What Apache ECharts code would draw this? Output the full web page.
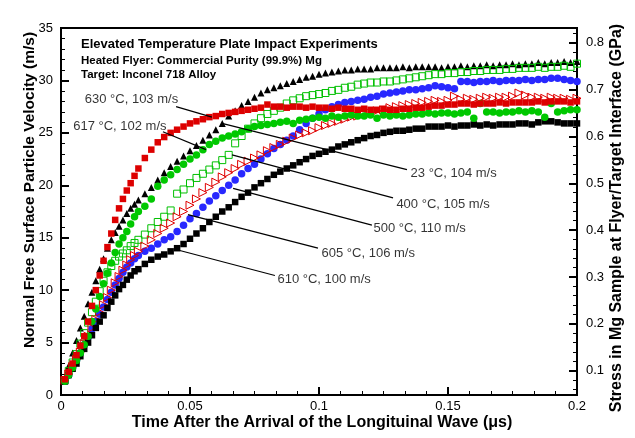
<!DOCTYPE html>
<html>
<head>
<meta charset="utf-8">
<script src="https://cdn.jsdelivr.net/npm/echarts@6/dist/echarts.min.js"></script>
<style>
  html, body { margin: 0; padding: 0; background: #fff; }
  #chart { width: 635px; height: 438px; }
</style>
</head>
<body>
<div id="chart"></div>
<script>
// time after arrival of longitudinal wave (us)
const time = [
  0.0015, 0.003, 0.0045, 0.006, 0.0075, 0.009, 0.0105, 0.012, 0.0135, 0.015,
  0.0165, 0.018, 0.0195, 0.021, 0.0225, 0.024, 0.0255, 0.027, 0.0285, 0.03,
  0.0325, 0.035, 0.0375, 0.04, 0.0425, 0.045, 0.0475, 0.05, 0.0525, 0.055,
  0.0575, 0.06, 0.0625, 0.065, 0.0675, 0.07, 0.0725, 0.075, 0.0775, 0.08,
  0.0825, 0.085, 0.0875, 0.09, 0.0925, 0.095, 0.0975, 0.1, 0.1025, 0.105,
  0.1075, 0.11, 0.1125, 0.115, 0.1175, 0.12, 0.1225, 0.125, 0.1275, 0.13,
  0.1325, 0.135, 0.1375, 0.14, 0.1425, 0.145, 0.1475, 0.15, 0.1525, 0.155,
  0.1575, 0.16, 0.1625, 0.165, 0.1675, 0.17, 0.1725, 0.175, 0.1775, 0.18,
  0.1825, 0.185, 0.1875, 0.19, 0.1925, 0.195, 0.1975, 0.2
];

// free surface velocity (m/s) per shot
const v23 = [
  1.6, 2.8, 4.0, 5.2, 6.4, 7.5, 8.7, 9.8, 10.9, 12.0,
  13.0, 14.0, 14.8, 15.5, 16.1, 16.7, 17.3, 17.8, 18.2, 18.6,
  19.2, 19.8, 20.5, 21.2, 21.8, 22.3, 22.8, 23.3, 23.8, 24.3,
  24.8, 25.3, 25.9, 26.6, 27.1, 27.6, 28.0, 28.4, 28.8, 29.1,
  29.3, 29.5, 29.7, 29.9, 30.1, 30.3, 30.4, 30.6, 30.7, 30.8,
  30.9, 31.0, 31.0, 31.1, 31.1, 31.1, 31.2, 31.2, 31.2, 31.2,
  31.3, 31.2, 31.3, 31.3, 31.3, 31.3, 31.2, 31.3, 31.3, 31.4,
  31.3, 31.4, 31.4, 31.5, 31.4, 31.5, 31.5, 31.6, 31.5, 31.6,
  31.6, 31.7, 31.6, 31.7, 31.7, 31.8, 31.7, 31.8
];
const v400 = [
  1.4, 2.3, 3.1, 3.9, 4.9, 5.9, 6.9, 7.9, 8.9, 9.9,
  10.9, 11.7, 12.3, 12.8, 13.2, 13.5, 13.8, 14.2, 14.5, 14.8,
  15.3, 15.9, 16.5, 17.0, 17.6, 19.2, 19.6, 20.2, 20.7, 21.1,
  21.5, 21.9, 22.4, 22.9, 24.0, 24.7, 25.4, 25.9, 26.4, 26.8,
  27.1, 27.4, 27.8, 28.1, 28.3, 28.5, 28.6, 28.7, 28.8, 29.0,
  29.1, 29.3, 29.4, 29.6, 29.7, 29.8, 29.8, 29.9, 29.9, 30.0,
  30.1, 30.2, 30.3, 30.4, 30.5, 30.6, 30.6, 30.7, 30.7, 30.8,
  30.8, 30.9, 30.9, 31.0, 31.0, 31.0, 31.1, 31.1, 31.2, 31.2,
  31.2, 31.3, 31.2, 31.3, 31.3, 31.4, 31.3, 31.6
];
const v500 = [
  1.3, 1.9, 2.6, 3.3, 4.0, 4.8, 5.5, 6.3, 7.0, 7.7,
  8.4, 9.1, 9.8, 10.5, 11.1, 11.7, 12.2, 12.6, 13.0, 13.3,
  13.7, 14.0, 14.4, 14.8, 15.1, 15.6, 16.2, 16.8, 17.3, 17.9,
  18.5, 19.0, 19.5, 20.0, 20.5, 21.1, 21.6, 22.0, 22.5, 23.0,
  23.5, 23.9, 24.3, 24.7, 25.3, 25.9, 26.4, 26.8, 27.2, 27.5,
  27.7, 27.9, 28.0, 28.1, 28.2, 28.4, 28.5, 28.7, 28.8, 28.9,
  29.0, 29.1, 29.1, 29.2, 29.3, 29.5, 29.4, 29.3, 29.2, 29.9,
  29.9, 29.8, 29.9, 29.9, 30.0, 29.9, 30.0, 30.0, 30.0, 30.1,
  30.0, 30.1, 30.1, 30.2, 30.2, 30.1, 30.0, 29.9
];
const v605 = [
  1.4, 2.0, 2.7, 3.4, 4.1, 4.9, 5.6, 6.4, 7.2, 7.9,
  8.6, 9.3, 10.0, 10.7, 11.3, 11.9, 12.4, 12.9, 13.3, 13.7,
  14.2, 14.8, 15.4, 15.9, 16.4, 17.0, 17.5, 18.1, 18.7, 19.3,
  19.8, 20.3, 20.8, 21.2, 21.6, 22.0, 22.3, 22.6, 22.9, 23.3,
  23.6, 23.9, 24.2, 24.5, 24.8, 25.0, 25.2, 25.5, 25.7, 25.9,
  26.1, 26.3, 26.5, 26.6, 26.8, 26.9, 27.1, 27.2, 27.4, 27.5,
  27.6, 27.7, 27.8, 27.9, 28.0, 28.1, 28.0, 28.1, 28.5, 28.2,
  28.3, 28.2, 28.3, 28.4, 28.3, 28.4, 28.4, 28.5, 28.8, 28.6,
  28.4, 28.4, 28.3, 28.4, 28.3, 28.3, 28.2, 28.3
];
const v610 = [
  1.3, 1.9, 2.5, 3.0, 3.7, 4.4, 5.0, 5.7, 6.4, 7.0,
  7.6, 8.3, 8.9, 9.5, 10.1, 10.5, 11.0, 11.4, 11.8, 12.0,
  12.5, 12.9, 13.2, 13.4, 13.7, 14.0, 14.4, 14.9, 15.4, 15.9,
  16.5, 17.0, 17.5, 17.9, 18.4, 18.9, 19.3, 19.8, 20.2, 20.6,
  21.0, 21.3, 21.6, 21.9, 22.2, 22.5, 22.8, 23.0, 23.2, 23.4,
  23.7, 23.9, 24.1, 24.3, 24.5, 24.7, 24.8, 25.0, 25.1, 25.2,
  25.2, 25.3, 25.4, 25.4, 25.6, 25.6, 25.6, 25.7, 25.6, 25.7,
  25.7, 25.8, 25.7, 25.8, 25.7, 25.8, 25.8, 25.8, 25.9, 25.9,
  25.8, 26.0, 26.1, 26.1, 26.0, 25.9, 25.9, 25.9
];
const v617 = [
  1.3, 1.9, 2.6, 3.3, 4.0, 4.8, 5.6, 7.0, 8.2, 9.4,
  10.6, 11.6, 12.6, 13.6, 14.4, 15.0, 15.6, 16.3, 17.0, 17.5,
  18.0, 18.7, 19.9, 20.5, 21.0, 21.5, 22.0, 22.5, 22.9, 23.4,
  23.9, 24.2, 24.5, 24.7, 24.9, 25.1, 25.4, 25.6, 25.7, 25.8,
  25.9, 26.0, 26.1, 25.9, 26.2, 26.3, 26.4, 26.5, 26.4, 26.6,
  26.5, 26.6, 26.7, 26.6, 26.6, 26.7, 26.4, 26.7, 26.6, 26.7,
  26.6, 26.7, 26.8, 26.8, 26.9, 26.8, 26.9, 26.9, 26.8, 26.9,
  27.0, 26.4, 27.8, 27.0, 27.0, 26.9, 27.0, 27.0, 27.1, 27.0,
  27.1, 27.0, 26.5, 27.8, 27.0, 27.1, 27.2, 27.2
];
const v630 = [
  1.5, 2.2, 3.0, 3.8, 4.7, 5.6, 7.0, 8.5, 10.0, 11.4,
  12.8, 14.1, 15.4, 16.7, 17.8, 18.7, 19.5, 20.2, 20.9, 21.6,
  22.6, 23.4, 24.1, 24.6, 25.0, 25.3, 25.6, 25.9, 26.1, 26.3,
  26.5, 26.6, 26.8, 26.9, 27.0, 27.1, 27.2, 27.3, 27.4, 27.7,
  27.5, 27.5, 27.4, 27.5, 27.5, 27.4, 27.5, 27.4, 27.4, 27.3,
  27.4, 27.3, 27.3, 27.2, 27.3, 27.2, 27.2, 27.3, 27.2, 27.2,
  27.3, 27.3, 27.4, 27.4, 27.5, 27.6, 27.6, 27.7, 27.7, 27.8,
  27.8, 27.7, 27.8, 27.8, 27.8, 27.9, 27.8, 27.9, 27.9, 27.9,
  27.9, 28.0, 27.9, 28.0, 28.0, 28.0, 27.9, 28.0
];

// shot labels with leader lines (data units)
const shotLabels = ['630 °C, 103 m/s', '617 °C, 102 m/s', '23 °C, 104 m/s', '400 °C, 105 m/s',
  '500 °C, 110 m/s', '605 °C, 106 m/s', '610 °C, 100 m/s'];
const labelAt = [[0.0456, 28.2], [0.0411, 25.65], [0.1353, 21.1], [0.1298, 18.2],
  [0.1209, 15.9], [0.1008, 13.5], [0.0837, 11.0]];
const labelSide = ['left', 'left', 'right', 'right', 'right', 'right', 'right'];
const leaderFrom = [[0.0446, 27.5], [0.0395, 25.1], [0.1341, 21.5], [0.1287, 18.8],
  [0.1205, 16.2], [0.0996, 14.0], [0.0829, 11.4]];
const leaderTo = [[0.0585, 26.5], [0.0562, 23.4], [0.0624, 25.9], [0.0663, 22.9],
  [0.0667, 19.7], [0.0492, 17.2], [0.0442, 13.9]];

const FONT = '"Liberation Sans", Arial, Helvetica, sans-serif';

let chart = echarts.init(document.getElementById('chart'));

function pts(arr) {
  return time.map((t, i) => [t, arr[i]]);
}

function markers(name, arr, symbol, size, color, hollow, rotate) {
  return {
    name: name,
    type: 'scatter',
    xAxisIndex: 0,
    yAxisIndex: 0,
    symbol: symbol,
    symbolSize: size,
    symbolRotate: rotate || 0,
    itemStyle: hollow
      ? {color: 'rgba(0,0,0,0)', borderColor: color, borderWidth: 1, opacity: 1}
      : {color: color, opacity: 1},
    data: pts(arr)
  };
}

const majorTick = {inside: true, length: 8, lineStyle: {color: '#000', width: 2}};
const minorTick = (n) => ({show: true, splitNumber: n, length: 4, lineStyle: {color: '#000', width: 1}});
const tickLabel = {color: '#000', fontSize: 13, fontFamily: FONT};

let option = {
  animation: false,
  backgroundColor: '#fff',
  grid: [
    {left: 61, right: 58, top: 28, bottom: 43, show: true, borderColor: '#000', borderWidth: 2},
    {left: 61, right: 58, top: 42.7, bottom: 67.3},
    {left: 61, right: 58, top: 33.3, bottom: 48.6}
  ],
  xAxis: [
    {
      gridIndex: 0, type: 'value', min: 0, max: 0.2, interval: 0.05,
      axisLine: {lineStyle: {color: '#000', width: 2}},
      axisTick: majorTick,
      minorTick: minorTick(6),
      splitLine: {show: false},
      axisLabel: Object.assign({margin: 5}, tickLabel)
    },
    {gridIndex: 1, type: 'value', min: 0, max: 1, show: false},
    {gridIndex: 2, type: 'value', min: 0, max: 1, show: false}
  ],
  yAxis: [
    {
      gridIndex: 0, type: 'value', min: 0, max: 35, interval: 5,
      axisLine: {onZero: false, lineStyle: {color: '#000', width: 2}},
      axisTick: majorTick,
      minorTick: minorTick(5),
      splitLine: {show: false},
      axisLabel: Object.assign({margin: 8}, tickLabel)
    },
    {
      // stress scale, major ticks
      gridIndex: 1, type: 'value', position: 'right', min: 0.1, max: 0.8, interval: 0.1,
      axisLine: {show: false, onZero: false},
      axisTick: majorTick,
      splitLine: {show: false},
      axisLabel: Object.assign({margin: 9}, tickLabel)
    },
    {
      // stress scale, minor ticks
      gridIndex: 2, type: 'value', position: 'right', min: 0.06, max: 0.82, interval: 0.02,
      axisLine: {show: false, onZero: false},
      axisTick: {inside: true, length: 4, lineStyle: {color: '#000', width: 1}},
      splitLine: {show: false},
      axisLabel: {show: false}
    }
  ],
  graphic: [
    {type: 'text', x: 81, y: 44, style: {text: 'Elevated Temperature Plate Impact Experiments',
      font: 'bold 13px ' + FONT, fill: '#000', textAlign: 'left', textVerticalAlign: 'middle'}},
    {type: 'text', x: 81, y: 61, style: {text: 'Heated Flyer: Commercial Purity (99.9%) Mg',
      font: 'bold 11.5px ' + FONT, fill: '#000', textAlign: 'left', textVerticalAlign: 'middle'}},
    {type: 'text', x: 81, y: 75, style: {text: 'Target: Inconel 718 Alloy',
      font: 'bold 11.5px ' + FONT, fill: '#000', textAlign: 'left', textVerticalAlign: 'middle'}},
    {type: 'text', x: 30, y: 190, rotation: Math.PI / 2, style: {text: 'Normal Free Surface Particle Velocity (m/s)',
      font: 'bold 15.5px ' + FONT, fill: '#000', textAlign: 'center', textVerticalAlign: 'middle'}},
    {type: 'text', x: 617, y: 218, rotation: Math.PI / 2, style: {text: 'Stress in Mg Sample at Flyer/Target Interface (GPa)',
      font: 'bold 16px ' + FONT, fill: '#000', textAlign: 'center', textVerticalAlign: 'middle'}},
    {type: 'text', x: 322, y: 423, style: {text: 'Time After the Arrival of the Longituinal Wave (μs)',
      font: 'bold 16px ' + FONT, fill: '#000', textAlign: 'center', textVerticalAlign: 'middle'}}
  ],
  series: [
    markers('23 °C, 104 m/s', v23, 'triangle', 7, '#000', false),
    markers('400 °C, 105 m/s', v400, 'rect', 7, '#00c000', true),
    markers('500 °C, 110 m/s', v500, 'circle', 7.5, '#2828ff', false),
    markers('605 °C, 106 m/s', v605, 'triangle', 8, '#e00000', true, -90),
    markers('610 °C, 100 m/s', v610, 'rect', 6.5, '#000', false),
    markers('617 °C, 102 m/s', v617, 'circle', 7.5, '#00c800', false),
    markers('630 °C, 103 m/s', v630, 'rect', 6.5, '#dd0000', false),
    {
      type: 'lines',
      coordinateSystem: 'cartesian2d',
      xAxisIndex: 0,
      yAxisIndex: 0,
      z: 5,
      silent: true,
      lineStyle: {color: '#000', width: 1.2, opacity: 1},
      data: leaderFrom.map((p, i) => ({coords: [p, leaderTo[i]]}))
    },
    {
      type: 'scatter',
      xAxisIndex: 0,
      yAxisIndex: 0,
      z: 6,
      silent: true,
      symbolSize: 1,
      itemStyle: {color: 'rgba(0,0,0,0)'},
      data: labelAt.map((p, i) => ({
        name: shotLabels[i],
        value: p,
        label: {show: true, position: labelSide[i], distance: 0, formatter: '{b}',
          color: '#000', fontSize: 13, fontFamily: FONT}
      }))
    }
  ]
};

chart.setOption(option);
</script>
</body>
</html>
